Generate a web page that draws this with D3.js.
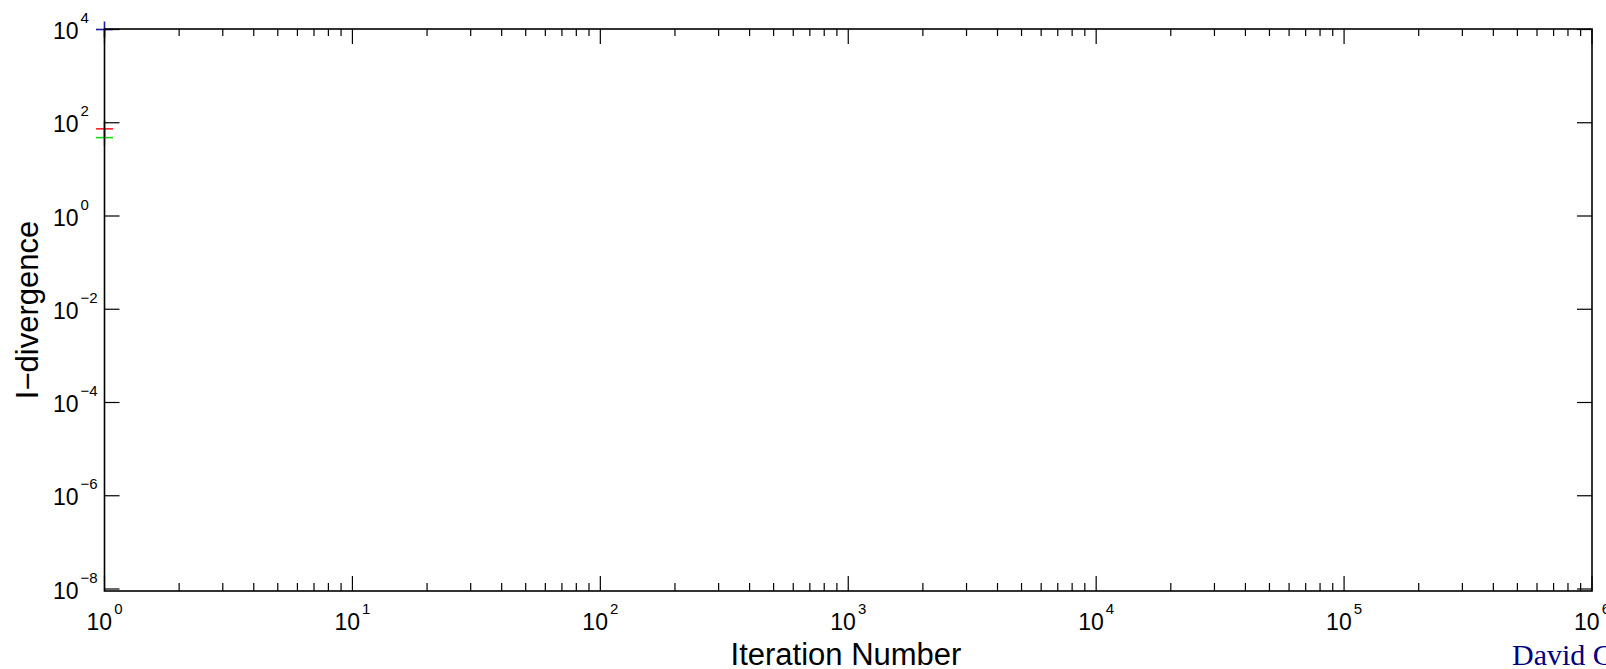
<!DOCTYPE html>
<html>
<head>
<meta charset="utf-8">
<script src="https://cdn.jsdelivr.net/npm/d3@7"></script>
<style>
  body { margin: 0; background: #fff; }
  svg { display: block; font-family: "Liberation Sans", Arial, sans-serif; }
</style>
</head>
<body>
<div id="canvas"></div>
<script>
"use strict";

// x: iteration number, y: I-divergence (only the first iteration is drawn)
let seriesNames = ["blue", "red", "green"];
let seriesColors = ["#1c1c9c", "#ff2020", "#10e010"];
let iterations = [[1], [1], [1]];
let divergence = [[1e4], [74], [48]];

let xTickPowers = [0, 1, 2, 3, 4, 5, 6];
let yTickPowers = [4, 2, 0, -2, -4, -6, -8];

let width = 1606, height = 669;

let drawing = d3.select("#canvas")
    .append("svg")
    .attr("width", width)
    .attr("height", height);

let plotLeft = 104.5, plotRight = 1592, plotTop = 29, plotBottom = 591;

let x = d3.scaleLog().domain([1, 1e6]).range([plotLeft, plotRight]);
let y = d3.scaleLog().domain([1e-8, 1e4]).range([589, 29.5]);

// markers first so the frame sits on top of them
seriesNames.forEach(function (name, i) {
    let g = drawing.append("g").attr("stroke", seriesColors[i]).attr("stroke-width", 1.6);
    iterations[i].forEach(function (it, j) {
        let px = x(it), py = y(divergence[i][j]);
        g.append("line").attr("x1", px - 8.5).attr("x2", px + 8.5).attr("y1", py).attr("y2", py);
        g.append("line").attr("x1", px).attr("x2", px).attr("y1", py - 8).attr("y2", py + 8);
    });
});

// minor and major x ticks, top and bottom, pointing inward
let minorX = [];
for (let p = 0; p < 6; p++) {
    for (let k = 2; k <= 9; k++) minorX.push(k * Math.pow(10, p));
}
let ticks = drawing.append("g").attr("stroke", "#000").attr("stroke-width", 1.2);

minorX.forEach(function (v) {
    ticks.append("line").attr("x1", x(v)).attr("x2", x(v)).attr("y1", plotBottom).attr("y2", plotBottom - 8);
    ticks.append("line").attr("x1", x(v)).attr("x2", x(v)).attr("y1", plotTop).attr("y2", plotTop + 7);
});
xTickPowers.forEach(function (p) {
    let v = Math.pow(10, p);
    ticks.append("line").attr("x1", x(v)).attr("x2", x(v)).attr("y1", plotBottom).attr("y2", plotBottom - 15);
    ticks.append("line").attr("x1", x(v)).attr("x2", x(v)).attr("y1", plotTop).attr("y2", plotTop + 15);
});
yTickPowers.forEach(function (p) {
    let v = Math.pow(10, p);
    ticks.append("line").attr("x1", plotLeft).attr("x2", plotLeft + 15).attr("y1", y(v)).attr("y2", y(v));
    ticks.append("line").attr("x1", plotRight).attr("x2", plotRight - 15).attr("y1", y(v)).attr("y2", y(v));
});

// frame
drawing.append("rect")
    .attr("x", plotLeft).attr("y", plotTop)
    .attr("width", plotRight - plotLeft).attr("height", plotBottom - plotTop)
    .attr("fill", "none").attr("stroke", "#000").attr("stroke-width", 1.6);

function expText(p) {
    return p < 0 ? "\u2212" + Math.abs(p) : String(p);
}

// x tick labels
xTickPowers.forEach(function (p) {
    let t = drawing.append("text")
        .attr("x", x(Math.pow(10, p)))
        .attr("y", 630)
        .attr("text-anchor", "middle")
        .attr("font-size", 23);
    t.append("tspan").text("10");
    t.append("tspan").attr("dx", 2).attr("dy", -16).attr("font-size", 15).text(expText(p));
});

// y tick labels
yTickPowers.forEach(function (p) {
    let t = drawing.append("text")
        .attr("x", 53)
        .attr("y", y(Math.pow(10, p)) + 9.5)
        .attr("font-size", 23);
    t.append("tspan").text("10");
    t.append("tspan").attr("dx", 2).attr("dy", -16).attr("font-size", 15).text(expText(p));
});

// axis titles
drawing.append("text")
    .attr("x", 846)
    .attr("y", 665)
    .attr("text-anchor", "middle")
    .attr("font-size", 31)
    .text("Iteration Number");

drawing.append("text")
    .attr("transform", "translate(38,310) rotate(-90)")
    .attr("text-anchor", "middle")
    .attr("font-size", 31)
    .text("I\u2212divergence");

// author credit, cut off by the page edge as in the original slide
drawing.append("text")
    .attr("x", 1512)
    .attr("y", 665)
    .attr("font-family", "'Liberation Serif', 'Times New Roman', serif")
    .attr("font-size", 30)
    .attr("fill", "#000080")
    .text("David C");
</script>
</body>
</html>
